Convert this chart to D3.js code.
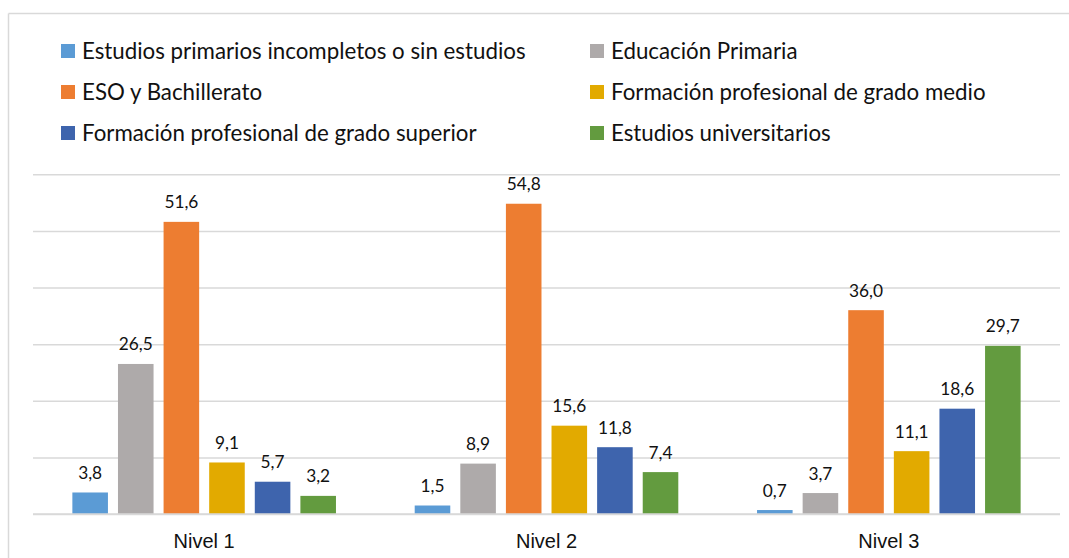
<!DOCTYPE html>
<html>
<head>
<meta charset="utf-8">
<script src="https://cdn.jsdelivr.net/npm/d3@7"></script>
<style>
  html, body { margin: 0; padding: 0; background: #fff; }
  svg { display: block; }
</style>
</head>
<body>
<svg id="chart" width="1069" height="558"></svg>
<script>
// ---- Data ----
const categories = ["Nivel 1", "Nivel 2", "Nivel 3"];
const seriesNames = [
  "Estudios primarios incompletos o sin estudios",
  "Educación Primaria",
  "ESO y Bachillerato",
  "Formación profesional de grado medio",
  "Formación profesional de grado superior",
  "Estudios universitarios"
];
const primariosIncompletos = [3.8, 1.5, 0.7];
const educacionPrimaria = [26.5, 8.9, 3.7];
const esoBachillerato = [51.6, 54.8, 36.0];
const fpGradoMedio = [9.1, 15.6, 11.1];
const fpGradoSuperior = [5.7, 11.8, 18.6];
const universitarios = [3.2, 7.4, 29.7];
const yTicks = [0, 10, 20, 30, 40, 50, 60];

const seriesValues = [primariosIncompletos, educacionPrimaria, esoBachillerato,
                      fpGradoMedio, fpGradoSuperior, universitarios];
const colors = ["#5B9BD5", "#AEAAAA", "#ED7D31", "#E2AA00", "#3E64AD", "#639B3F"];

// ---- Layout ----
const svg = d3.select("#chart");
const plotLeft = 33, plotRight = 1060, plotTop = 174.3, plotBottom = 514;

const x0 = d3.scaleBand().domain(categories).range([plotLeft, plotRight])
  .paddingInner(0.23).paddingOuter(0.115);
const x1 = d3.scaleBand().domain(d3.range(seriesNames.length))
  .range([0, x0.bandwidth()]).paddingInner(0.22).paddingOuter(0);
const y = d3.scaleLinear().domain([0, 60]).range([plotBottom, plotTop]);

// chart border (only top and left visible)
svg.append("line").attr("x1", 8.5).attr("x2", 1069).attr("y1", 13.5).attr("y2", 13.5)
  .attr("stroke", "#D9D9D9").attr("stroke-width", 1.5);
svg.append("line").attr("x1", 8.5).attr("x2", 8.5).attr("y1", 13.5).attr("y2", 558)
  .attr("stroke", "#D9D9D9").attr("stroke-width", 1.5);

// gridlines
const yAxis = d3.axisLeft(y).tickValues(yTicks).tickSize(-(plotRight - plotLeft)).tickFormat("");
const gy = svg.append("g").attr("transform", `translate(${plotLeft},0)`).call(yAxis);
gy.select(".domain").remove();
gy.selectAll(".tick line").attr("stroke", "#D9D9D9").attr("stroke-width", 1.5);

// bars
const rows = [];
categories.forEach((c, ci) => {
  seriesValues.forEach((vals, si) => rows.push({ cat: c, si, v: vals[ci] }));
});
const fmt = v => d3.format(".1f")(v).replace(".", ",");

svg.append("g").selectAll("rect").data(rows).join("rect")
  .attr("x", d => x0(d.cat) + x1(d.si))
  .attr("width", x1.bandwidth())
  .attr("y", d => y(d.v))
  .attr("height", d => y(0) - y(d.v))
  .attr("fill", d => colors[d.si]);

// redraw baseline on top
svg.append("line").attr("x1", plotLeft).attr("x2", plotRight)
  .attr("y1", y(0)).attr("y2", y(0)).attr("stroke", "#D9D9D9").attr("stroke-width", 1.5);

// fit font sizes
function fitSize(family, text, target) {
  const t = svg.append("text").attr("font-family", family).attr("font-size", 20).text(text);
  const w = t.node().getComputedTextLength();
  t.remove();
  return 20 * target / w;
}
const labelFamily = "Lato, 'Open Sans', sans-serif";
const labelSize = fitSize(labelFamily, "51,6", 34);
const legendSize = fitSize(labelFamily, seriesNames[0], 444);

// data labels
svg.append("g").selectAll("text").data(rows).join("text")
  .attr("x", d => x0(d.cat) + x1(d.si) + x1.bandwidth() / 2)
  .attr("y", d => y(d.v) - 13.5)
  .attr("text-anchor", "middle")
  .attr("font-family", labelFamily)
  .attr("font-size", labelSize)
  .attr("fill", "#111")
  .text(d => fmt(d.v));

// category axis labels
const xAxis = d3.axisBottom(x0).tickSize(0).tickPadding(0);
const gx = svg.append("g").attr("transform", `translate(0,${plotBottom})`).call(xAxis);
gx.select(".domain").remove();
gx.selectAll(".tick text")
  .attr("font-family", "'Liberation Sans', Arial, sans-serif")
  .attr("font-size", 20).attr("fill", "#111")
  .attr("dy", null).attr("y", 34);

// legend
const legendColX = [61, 590];
const legendRowY = [51, 92, 133];
const lg = svg.append("g").selectAll("g").data(seriesNames).join("g")
  .attr("transform", (d, i) => `translate(${legendColX[i % 2]},${legendRowY[Math.floor(i / 2)]})`);
lg.append("rect").attr("x", 0).attr("y", -7).attr("width", 14).attr("height", 14)
  .attr("fill", (d, i) => colors[i]);
lg.append("text").attr("x", 21).attr("y", 0).attr("dy", "0.36em")
  .attr("font-family", labelFamily).attr("font-size", legendSize).attr("fill", "#111")
  .text(d => d);
</script>
</body>
</html>
